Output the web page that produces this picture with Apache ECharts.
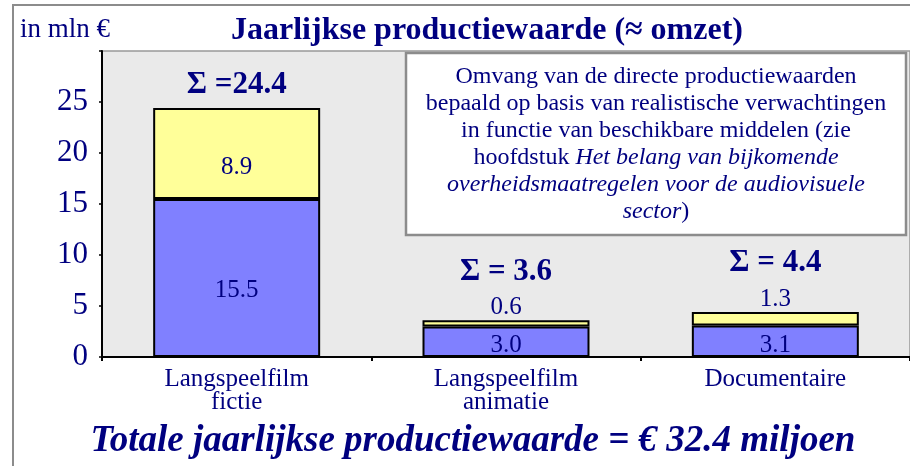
<!DOCTYPE html>
<html>
<head>
<meta charset="utf-8">
<script src="https://cdn.jsdelivr.net/npm/echarts@6/dist/echarts.min.js"></script>
<style>
  html, body { margin: 0; padding: 0; background: #ffffff; }
  #chart { width: 910px; height: 466px; }
</style>
</head>
<body>
<div id="chart"></div>
<script>
// Production value per genre, in million euro
const categories = ['Langspeelfilm\nfictie', 'Langspeelfilm\nanimatie', 'Documentaire'];
const directValues = [15.5, 3.0, 3.1];
const extraValues = [8.9, 0.6, 1.3];
const totalLabels = ['Σ =24.4', 'Σ = 3.6', 'Σ = 4.4'];
const yTicks = [0, 5, 10, 15, 20, 25, 30];

const NAVY = '#000080';
const SERIF = '"Liberation Serif", "Times New Roman", serif';

const totals = directValues.map((v, i) => +(v + extraValues[i]).toFixed(1));

// label tweaks per bar: tall bar keeps labels inside, short bars put the top value above
const directData = directValues.map((v, i) => ({
  value: v,
  label: { offset: [0, i === 0 ? 12 : 4] }
}));
const extraData = extraValues.map((v, i) => ({
  value: v,
  label: i === 0 ? { position: 'inside', offset: [0, 14] } : { position: 'top', distance: 0 }
}));
const sumDistances = [8, 33, 34];
const sumData = totals.map((t, i) => ({
  value: t,
  label: { formatter: totalLabels[i], distance: sumDistances[i] }
}));

const chart = echarts.init(document.getElementById('chart'), null, { renderer: 'canvas' });

chart.setOption({
  backgroundColor: '#ffffff',
  animation: false,
  grid: {
    left: 102, top: 51, bottom: 109, width: 810,
    show: true, backgroundColor: '#eaeaea', borderColor: '#999999', borderWidth: 1.5
  },
  xAxis: {
    type: 'category',
    data: categories,
    axisLine: { lineStyle: { color: '#000000', width: 2 } },
    axisTick: { show: true, length: 4, lineStyle: { color: '#000000', width: 2 } },
    axisLabel: {
      color: NAVY, fontFamily: SERIF, fontSize: 25, lineHeight: 23, margin: 11
    }
  },
  yAxis: {
    type: 'value',
    min: yTicks[0], max: yTicks[yTicks.length - 1], interval: yTicks[1] - yTicks[0],
    splitLine: { show: false },
    axisLine: { show: true, lineStyle: { color: '#000000', width: 2 } },
    axisTick: { show: true, length: 3, lineStyle: { color: '#000000', width: 1.5 } },
    axisLabel: {
      color: NAVY, fontFamily: SERIF, fontSize: 31, margin: 14,
      formatter: v => (v === yTicks[yTicks.length - 1] ? '' : String(v))
    }
  },
  series: [
    {
      type: 'bar', stack: 'total', data: directData, barWidth: '62%',
      itemStyle: { color: '#8080ff', borderColor: '#000000', borderWidth: 2 },
      label: {
        show: true, position: 'inside', color: NAVY, fontFamily: SERIF, fontSize: 25,
        formatter: p => p.value.toFixed(1)
      }
    },
    {
      type: 'bar', stack: 'total', data: extraData, barWidth: '62%',
      itemStyle: { color: '#ffff99', borderColor: '#000000', borderWidth: 2 },
      label: {
        show: true, color: NAVY, fontFamily: SERIF, fontSize: 25,
        formatter: p => p.value.toFixed(1)
      }
    },
    {
      type: 'scatter', data: sumData, symbolSize: 0, silent: true,
      itemStyle: { opacity: 1 },
      label: {
        show: true, position: 'top', color: NAVY, opacity: 1, fontFamily: SERIF,
        fontSize: 31, fontWeight: 'bold'
      }
    }
  ],
  graphic: [
    {
      type: 'rect', z: 0, silent: true,
      shape: { x: 13, y: 5, width: 920, height: 480 },
      style: { fill: 'none', stroke: '#8c8c8c', lineWidth: 2 }
    },
    {
      type: 'text', z: 10, x: 20, y: 30,
      style: { text: 'in mln €', fill: NAVY, font: '27px ' + SERIF, verticalAlign: 'middle' }
    },
    {
      type: 'text', z: 10,
      x: 487, y: 31,
      style: {
        text: 'Jaarlijkse productiewaarde (≈ omzet)', fill: NAVY,
        font: 'bold 32px ' + SERIF, align: 'center', verticalAlign: 'middle'
      }
    },
    {
      type: 'rect', z: 10, silent: true,
      shape: { x: 406, y: 53, width: 500, height: 182 },
      style: { fill: '#ffffff', stroke: '#8c8c8c', lineWidth: 2.5 }
    },
    {
      type: 'text', z: 11,
      x: 656, y: 144,
      style: {
        text: [
          'Omvang van de directe productiewaarden',
          'bepaald op basis van realistische verwachtingen',
          'in functie van beschikbare middelen (zie',
          'hoofdstuk {i|Het belang van bijkomende}',
          '{i|overheidsmaatregelen voor de audiovisuele}',
          '{i|sector})'
        ].join('\n'),
        fill: NAVY, font: '24px ' + SERIF, lineHeight: 27,
        align: 'center', verticalAlign: 'middle',
        rich: {
          i: { fontStyle: 'italic', fontFamily: SERIF, fontSize: 24, fill: NAVY, lineHeight: 27 }
        }
      }
    },
    {
      type: 'text', z: 10,
      x: 473, y: 441,
      style: {
        text: 'Totale jaarlijkse productiewaarde = € 32.4 miljoen', fill: NAVY,
        font: 'italic bold 37px ' + SERIF, align: 'center', verticalAlign: 'middle'
      }
    }
  ]
});
</script>
</body>
</html>
